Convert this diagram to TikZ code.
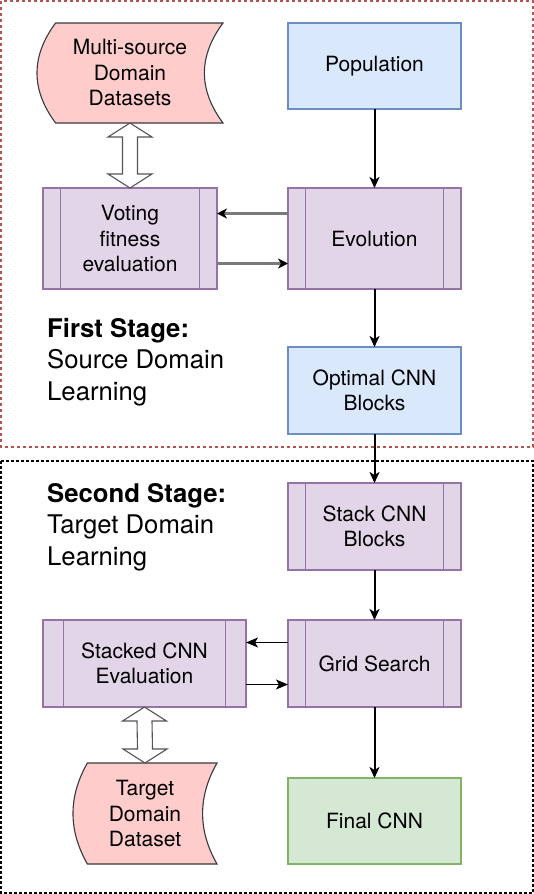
\documentclass[tikz,border=0pt]{standalone}
\usepackage{fontspec}
\setmainfont{TeX Gyre Heros}
\usetikzlibrary{arrows.meta,calc,backgrounds}
\definecolor{bluefill}{HTML}{DAE8FC}
\definecolor{bluestroke}{HTML}{6C8EBF}
\definecolor{purfill}{HTML}{E1D5E7}
\definecolor{purstroke}{HTML}{9673A6}
\definecolor{grnfill}{HTML}{D5E8D4}
\definecolor{grnstroke}{HTML}{82B366}
\definecolor{pinkfill}{HTML}{FFCCCC}
\definecolor{pinkstroke}{HTML}{36393D}
\definecolor{redframe}{HTML}{B85450}
\definecolor{lgray}{HTML}{7A7A7A}
\definecolor{dblgray}{HTML}{555555}

\newcommand{\dblarr}[2]{%
  \draw[dblarrow] (#1.south) -- ($(#1.south)+(22,14)$) -- ($(#1.south)+(7.5,14)$)
    -- ($(#2.north)+(7.5,-14)$) -- ($(#2.north)+(22,-14)$) -- (#2.north)
    -- ($(#2.north)+(-22,-14)$) -- ($(#2.north)+(-7.5,-14)$)
    -- ($(#1.south)+(-7.5,14)$) -- ($(#1.south)+(-22,14)$) -- cycle;}

\newcommand{\dstoreshape}[3]{%
  \draw[dstore] ($(#1.north west)+(#2,0)$) -- (#1.north east)
    .. controls ($(#1.north east)+({-4*#2/3},{#3/3})$) and ($(#1.south east)+({-4*#2/3},{-#3/3})$) .. (#1.south east)
    -- ($(#1.south west)+(#2,0)$)
    .. controls ($(#1.south west)+({-#2/3},{-#3/3})$) and ($(#1.north west)+({-#2/3},{#3/3})$) .. cycle;}

\begin{document}
\begin{tikzpicture}[x=1pt,y=-1pt,
  boxtext/.style={font=\fontsize{21}{25.5}\selectfont, align=center, text=black},
  basebox/.style={boxtext, line width=1.2pt, inner sep=0pt, outer sep=0pt, anchor=north west},
  bluebox/.style={basebox, draw=bluestroke, fill=bluefill},
  purbox/.style={basebox, draw=purstroke, fill=purfill},
  grnbox/.style={basebox, draw=grnstroke, fill=grnfill},
  dsnode/.style={boxtext, inner sep=0pt, outer sep=0pt, anchor=north west},
  dstore/.style={draw=pinkstroke, fill=pinkfill, line width=1.1pt},
  dblarrow/.style={draw=dblgray, fill=white, line width=1.1pt, line join=miter},
  stagetext/.style={font=\fontsize{25.7}{31.5}\selectfont, align=left, inner sep=0pt, anchor=west, text=black},
  conn/.style={line width=2pt, -{Stealth[length=11pt,width=10pt,inset=3pt]}},
  gconn/.style={draw=lgray, line width=2.5pt, -{Stealth[length=10pt,width=10pt,inset=3pt,color=black]}},
  bconn/.style={line width=1.2pt, -{Stealth[length=12pt,width=10pt,inset=3pt]}},
  frame/.style={dash pattern=on 3pt off 3pt, line width=1.1pt}
]
\useasboundingbox (0,0) rectangle (534,894);

% stage frames
\draw[frame, draw=redframe] (1,1) rectangle (533,447);
\draw[frame, draw=black, dash pattern=on 3pt off 2pt] (1,461) rectangle (533,893);

% first stage
\node[dsnode, minimum width=186pt, minimum height=100pt] (ms) at (37,23) {Multi-source\\Domain\\Datasets};
\begin{scope}[on background layer]
  \dstoreshape{ms}{18.6}{100}
\end{scope}
\node[bluebox, minimum width=173pt, minimum height=86pt] (pop) at (288,23) {Population};
\node[purbox, minimum width=173pt, minimum height=101pt] (evo) at (288,188) {Evolution};
\node[purbox, minimum width=174pt, minimum height=101pt] (vote) at (43,188) {Voting\\fitness\\evaluation};
\node[bluebox, minimum width=173pt, minimum height=87pt] (opt) at (288,347) {Optimal CNN\\Blocks};
\node[stagetext] (s1) at (47,362) {\textbf{First Stage:}\\Source Domain\\Learning};

% second stage
\node[purbox, minimum width=173pt, minimum height=87pt] (stack) at (288,483) {Stack CNN\\Blocks};
\node[purbox, minimum width=173pt, minimum height=87pt] (grid) at (288,620) {Grid Search};
\node[purbox, minimum width=203pt, minimum height=87pt] (sce) at (43,620) {Stacked CNN\\Evaluation};
\node[dsnode, minimum width=144pt, minimum height=101pt] (tdd) at (73,763) {Target\\Domain\\Dataset};
\begin{scope}[on background layer]
  \dstoreshape{tdd}{14.4}{101}
\end{scope}
\node[grnbox, minimum width=173pt, minimum height=86pt] (fin) at (288,778) {Final CNN};
\node[stagetext] (s2) at (47,527) {\textbf{Second Stage:}\\Target Domain\\Learning};

% subprocess inner lines
\foreach \n/\o in {evo/17.3, vote/17.4, stack/17.3, grid/17.3, sce/20.3}{
  \draw[purstroke, line width=1.2pt] ($(\n.north west)+(\o,0)$) -- ($(\n.south west)+(\o,0)$)
    ($(\n.north east)+(-\o,0)$) -- ($(\n.south east)+(-\o,0)$);
}

% connectors
\draw[conn] (pop) -- (evo);
\draw[conn] (evo) -- (opt);
\draw[conn] (opt) -- (stack);
\draw[conn] (stack) -- (grid);
\draw[conn] (grid) -- (fin);
\draw[gconn] ([yshift=25pt]evo.west) -- ([yshift=25pt]evo.west -| vote.east);
\draw[gconn] ([yshift=-25pt]vote.east) -- ([yshift=-25pt]vote.east -| evo.west);
\draw[bconn] ([yshift=21pt]grid.west) -- ([yshift=21pt]grid.west -| sce.east);
\draw[bconn] ([yshift=-21pt]sce.east) -- ([yshift=-21pt]sce.east -| grid.west);

% double arrows
\dblarr{ms}{vote}
\dblarr{sce}{tdd}
\end{tikzpicture}
\end{document}
